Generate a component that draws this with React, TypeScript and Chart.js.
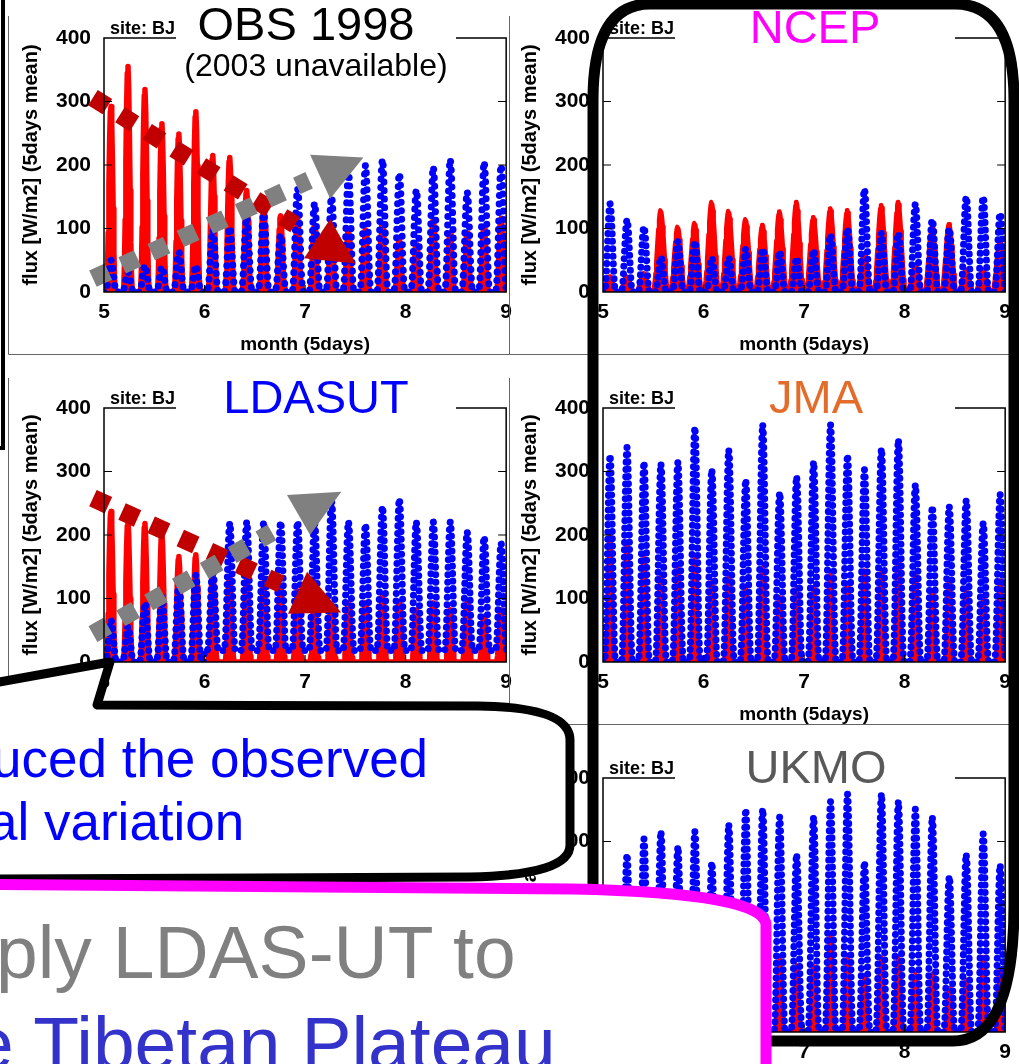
import React, { useEffect, useRef } from "react";
import { Chart, registerables } from "chart.js";

Chart.register(...registerables);

const FONT = "'Liberation Sans', Arial, Helvetica, sans-serif";

// ---------- axes ----------
const MONTH_TICKS = [5, 6, 7, 8, 9];
const FLUX_TICKS = [0, 100, 200, 300, 400];
const INNER_FLUX_TICKS = [100, 200, 300];
const INNER_MONTH_TICKS = [6, 7, 8];

// ---------- pentad timing (in months) ----------
const FIRST_PENTAD_NOON = 5.07;
const PENTAD_LENGTH = 0.1687;
const NOON_INDEX = 12;

// mean diurnal cycle shapes (fraction of the pentad's peak), hourly 00..23
const DIURNAL_SHARP = [0, 0, 0, 0, 0, 0, 0.02, 0.12, 0.32, 0.58, 0.82, 0.97, 1, 0.9, 0.7, 0.45, 0.22, 0.07, 0.01, 0, 0, 0, 0, 0];
const DIURNAL_MID = [0, 0, 0, 0, 0, 0.02, 0.1, 0.25, 0.45, 0.66, 0.84, 0.96, 1, 0.96, 0.84, 0.66, 0.45, 0.25, 0.1, 0.02, 0, 0, 0, 0];
const DIURNAL_BROAD = [0, 0.02, 0.06, 0.13, 0.23, 0.36, 0.5, 0.64, 0.77, 0.88, 0.96, 1, 1, 0.97, 0.9, 0.8, 0.68, 0.54, 0.4, 0.26, 0.14, 0.06, 0.02, 0];

// ---------- peak fluxes per pentad (W/m2), May..Aug ----------
const OBS_SENSIBLE = [292, 355, 319, 265, 249, 284, 215, 212, 160, 145, 120, 119, 105, 100, 98, 98, 108, 82, 76, 114, 93, 93, 103, 116];
const OBS_LATENT = [50, 31, 42, 40, 63, 42, 98, 102, 118, 124, 90, 163, 140, 150, 187, 200, 209, 187, 161, 197, 209, 158, 205, 200];

const NCEP_SENSIBLE = [25, 25, 30, 129, 103, 109, 142, 128, 115, 106, 127, 142, 118, 132, 129, 60, 137, 142, 40, 103, 107, 35, 35, 80];
const NCEP_LATENT = [139, 114, 103, 55, 80, 80, 54, 54, 68, 68, 64, 54, 66, 90, 100, 162, 93, 93, 139, 114, 100, 150, 150, 124];

const LDASUT_SENSIBLE = [237, 221, 218, 203, 166, 169, 145, 135, 130, 125, 120, 112, 95, 90, 93, 93, 103, 93, 82, 93, 82, 93, 72, 82];
const LDASUT_LATENT = [66, 56, 93, 103, 124, 137, 145, 219, 221, 221, 221, 221, 221, 255, 221, 217, 245, 257, 221, 221, 221, 205, 197, 187];
const LDASUT_LATENT_NIGHT = [0, 0, 0, 0, 0, 0, 18, 18, 18, 18, 18, 18, 18, 18, 18, 18, 18, 18, 18, 18, 18, 18, 18, 18];

const JMA_SENSIBLE = [200, 190, 166, 140, 150, 163, 129, 140, 119, 150, 103, 119, 119, 140, 124, 145, 145, 163, 140, 114, 127, 116, 103, 129];
const JMA_LATENT = [326, 338, 315, 312, 315, 370, 303, 334, 287, 374, 267, 292, 315, 374, 326, 303, 336, 350, 279, 245, 245, 255, 219, 264];

const UKMO_SENSIBLE = [150, 140, 135, 130, 125, 130, 120, 125, 120, 115, 117, 106, 105, 153, 117, 90, 119, 119, 93, 93, 70, 83, 119, 98];
const UKMO_LATENT = [225, 280, 304, 316, 292, 316, 267, 327, 351, 351, 339, 280, 339, 363, 375, 268, 375, 363, 351, 339, 245, 280, 312, 263];

// ---------- hand-drawn trend arrows (month, W/m2) ----------
const OBS_SH_TREND_LINE = [[4.89, 306], [6.9, 106]];
const OBS_SH_TREND_HEAD = [[7.25, 115], [6.99, 53], [7.5, 45]];
const OBS_LH_TREND_LINE = [[4.89, 21], [7.04, 176]];
const OBS_LH_TREND_HEAD = [[7.05, 216], [7.58, 212], [7.25, 147]];
const LDASUT_SH_TREND_LINE = [[4.89, 258], [6.76, 123]];
const LDASUT_SH_TREND_HEAD = [[7.02, 142], [6.83, 76], [7.36, 78]];
const LDASUT_LH_TREND_LINE = [[4.89, 44], [6.67, 204]];
const LDASUT_LH_TREND_HEAD = [[6.82, 263], [7.36, 268], [7.05, 200]];

type Arrow = { color: string; line: number[][]; head: number[][] };
type PanelDef = {
  id: string;
  row: number;
  col: number;
  title: string;
  titleColor: string;
  titleX: number;
  titleBaseline: number;
  sensible: number[];
  latent: number[];
  latentNight?: number[];
  sensibleShape: number[];
  sensibleWidth: number;
  dotGap: number;
  arrows: Arrow[];
};

const SH_ARROW = "#C00000";
const LH_ARROW = "#808080";

const PANELS: PanelDef[] = [
  {
    id: "obs", row: 0, col: 0, title: "OBS 1998", titleColor: "#000", titleX: 306, titleBaseline: 40,
    sensible: OBS_SENSIBLE, latent: OBS_LATENT, sensibleShape: DIURNAL_SHARP, sensibleWidth: 5.5, dotGap: 8.5,
    arrows: [
      { color: LH_ARROW, line: OBS_LH_TREND_LINE, head: OBS_LH_TREND_HEAD },
      { color: SH_ARROW, line: OBS_SH_TREND_LINE, head: OBS_SH_TREND_HEAD },
    ],
  },
  {
    id: "ncep", row: 0, col: 1, title: "NCEP", titleColor: "#FF00FF", titleX: 815, titleBaseline: 43,
    sensible: NCEP_SENSIBLE, latent: NCEP_LATENT, sensibleShape: DIURNAL_BROAD, sensibleWidth: 4, dotGap: 7.5,
    arrows: [],
  },
  {
    id: "ldasut", row: 1, col: 0, title: "LDASUT", titleColor: "#0000FF", titleX: 316, titleBaseline: 413,
    sensible: LDASUT_SENSIBLE, latent: LDASUT_LATENT, latentNight: LDASUT_LATENT_NIGHT, sensibleShape: DIURNAL_SHARP, sensibleWidth: 5.5, dotGap: 7.5,
    arrows: [
      { color: LH_ARROW, line: LDASUT_LH_TREND_LINE, head: LDASUT_LH_TREND_HEAD },
      { color: SH_ARROW, line: LDASUT_SH_TREND_LINE, head: LDASUT_SH_TREND_HEAD },
    ],
  },
  {
    id: "jma", row: 1, col: 1, title: "JMA", titleColor: "#E46C2A", titleX: 816, titleBaseline: 413,
    sensible: JMA_SENSIBLE, latent: JMA_LATENT, sensibleShape: DIURNAL_MID, sensibleWidth: 3.5, dotGap: 7.3,
    arrows: [],
  },
  {
    id: "ukmo", row: 2, col: 1, title: "UKMO", titleColor: "#595959", titleX: 816, titleBaseline: 783,
    sensible: UKMO_SENSIBLE, latent: UKMO_LATENT, sensibleShape: DIURNAL_MID, sensibleWidth: 3.5, dotGap: 7.3,
    arrows: [],
  },
];

const COLS = [
  { canvasLeft: 0, plotWidth: 406 },
  { canvasLeft: 499, plotWidth: 408 },
];
const CANVAS_W = 520;
const CANVAS_H = 360;
const ROW_STEP = 370;
const AXIS_W = 104;
const PLOT_TOP = 38;
const X_AXIS_H = 68;

function cyclePoints(peaks: number[], shape: number[], night?: number[]) {
  const pts: { x: number; y: number }[] = [];
  peaks.forEach((peak, i) => {
    const base = night ? night[i] : 0;
    shape.forEach((f, h) => {
      pts.push({
        x: FIRST_PENTAD_NOON + (i + (h - NOON_INDEX) / 24) * PENTAD_LENGTH,
        y: base + (peak - base) * f,
      });
    });
  });
  return pts;
}

function makeFramePlugin(panel: PanelDef) {
  return {
    id: "fluxFrame",
    afterDatasetsDraw(chart: any) {
      const { ctx, chartArea: a } = chart;
      const xs = chart.scales.x;
      const ys = chart.scales.y;
      ctx.save();
      ctx.strokeStyle = "#000";
      ctx.lineWidth = 1.5;
      ctx.strokeRect(a.left, a.top, a.right - a.left, a.bottom - a.top);
      ctx.lineWidth = 1.2;
      ctx.beginPath();
      INNER_FLUX_TICKS.forEach((v) => {
        const y = ys.getPixelForValue(v);
        ctx.moveTo(a.left, y);
        ctx.lineTo(a.left + 8, y);
        ctx.moveTo(a.right - 8, y);
        ctx.lineTo(a.right, y);
      });
      INNER_MONTH_TICKS.forEach((m) => {
        const x = xs.getPixelForValue(m);
        ctx.moveTo(x, a.bottom);
        ctx.lineTo(x, a.bottom - 7);
      });
      ctx.stroke();
      ctx.font = `bold 18px ${FONT}`;
      ctx.fillStyle = "#000";
      ctx.textAlign = "left";
      ctx.textBaseline = "alphabetic";
      ctx.fillText("site: BJ", a.left + 6, a.top - 4);
      panel.arrows.forEach((ar) => {
        ctx.fillStyle = ar.color;
        ctx.beginPath();
        ar.head.forEach(([x, y], k) => {
          const px = xs.getPixelForValue(x);
          const py = ys.getPixelForValue(y);
          if (k === 0) ctx.moveTo(px, py);
          else ctx.lineTo(px, py);
        });
        ctx.closePath();
        ctx.fill();
      });
      ctx.restore();
    },
  };
}

function FluxPanel({ panel }: { panel: PanelDef }) {
  const ref = useRef<HTMLCanvasElement>(null);
  const col = COLS[panel.col];
  useEffect(() => {
    const canvas = ref.current;
    if (!canvas) return;
    const arrowSets = panel.arrows.map((ar) => ({
      data: ar.line.map(([x, y]) => ({ x, y })),
      borderColor: ar.color,
      backgroundColor: ar.color,
      borderWidth: 18,
      borderDash: [17, 15],
      borderCapStyle: "butt",
      pointRadius: 0,
      fill: false,
      clip: false,
      order: 0,
    }));
    const chart = new Chart(canvas, {
      type: "line",
      data: {
        datasets: [
          {
            data: cyclePoints(panel.sensible, panel.sensibleShape),
            borderColor: "#FF0000",
            backgroundColor: "#FF0000",
            borderWidth: panel.sensibleWidth,
            borderJoinStyle: "round",
            pointRadius: 0,
            fill: "origin",
            tension: 0,
            order: 3,
          },
          {
            data: cyclePoints(panel.latent, DIURNAL_MID, panel.latentNight),
            borderColor: "#0000FF",
            borderWidth: 7,
            borderDash: [0.01, panel.dotGap],
            borderCapStyle: "round",
            borderJoinStyle: "round",
            pointRadius: 0,
            fill: false,
            tension: 0,
            order: 2,
          },
          ...arrowSets,
        ] as any,
      },
      options: {
        animation: false,
        responsive: false,
        maintainAspectRatio: false,
        devicePixelRatio: 1,
        events: [],
        layout: {
          padding: { top: PLOT_TOP, left: 0, bottom: 0, right: CANVAS_W - AXIS_W - col.plotWidth },
        },
        plugins: {
          legend: { display: false },
          tooltip: { enabled: false },
          title: { display: false },
        },
        scales: {
          x: {
            type: "linear",
            min: MONTH_TICKS[0],
            max: MONTH_TICKS[MONTH_TICKS.length - 1],
            afterBuildTicks: (s: any) => {
              s.ticks = MONTH_TICKS.map((v) => ({ value: v }));
            },
            afterFit: (s: any) => {
              s.height = X_AXIS_H;
            },
            grid: { display: false, drawTicks: false },
            border: { display: false },
            ticks: {
              color: "#000",
              padding: 8,
              maxRotation: 0,
              autoSkip: false,
              font: { family: FONT, size: 21, weight: "bold" },
            },
            title: {
              display: true,
              text: "month (5days)",
              color: "#000",
              padding: { top: 0, bottom: 4 },
              font: { family: FONT, size: 19, weight: "bold" },
            },
          },
          y: {
            type: "linear",
            min: FLUX_TICKS[0],
            max: FLUX_TICKS[FLUX_TICKS.length - 1],
            afterBuildTicks: (s: any) => {
              s.ticks = FLUX_TICKS.map((v) => ({ value: v }));
            },
            afterFit: (s: any) => {
              s.width = AXIS_W;
            },
            grid: { display: false, drawTicks: false },
            border: { display: false },
            ticks: {
              color: "#000",
              padding: 13,
              font: { family: FONT, size: 21, weight: "bold" },
            },
            title: {
              display: true,
              text: "flux [W/m2] (5days mean)",
              color: "#000",
              padding: { top: 19, bottom: 0 },
              font: { family: FONT, size: 20, weight: "bold" },
            },
          },
        },
      } as any,
      plugins: [makeFramePlugin(panel)],
    });
    return () => chart.destroy();
  }, [panel]);
  return (
    <canvas
      ref={ref}
      width={CANVAS_W}
      height={CANVAS_H}
      style={{
        position: "absolute",
        left: col.canvasLeft,
        top: panel.row * ROW_STEP,
        width: CANVAS_W,
        height: CANVAS_H,
      }}
    />
  );
}

export default function App() {
  const textStyle = { fontFamily: FONT };
  return (
    <div
      style={{
        position: "fixed",
        left: 0,
        top: 0,
        width: 1019,
        height: 1064,
        overflow: "hidden",
        background: "#fff",
      }}
    >
      {PANELS.map((p) => (
        <FluxPanel key={p.id} panel={p} />
      ))}
      <svg
        width={1019}
        height={1064}
        style={{ position: "absolute", left: 0, top: 0, pointerEvents: "none" }}
      >
        {/* outer panel frames */}
        <g stroke="#666" strokeWidth={1} fill="none">
          <path d="M 8.5 16 V 354.5 H 509.5 V 16" />
          <path d="M 8.5 378 V 724.5 H 509.5 V 378" />
          <path d="M 509.5 354.5 H 1019" />
          <path d="M 509.5 724.5 H 1019" />
        </g>
        {/* frame of the neighbouring slide object on the left */}
        <path d="M 3 0 V 448 H -5" stroke="#000" strokeWidth={4} fill="none" />

        {/* title boxes */}
        {PANELS.map((p) => (
          <rect
            key={"box-" + p.id}
            x={COLS[p.col].canvasLeft + 176}
            y={p.row * ROW_STEP}
            width={280}
            height={41}
            fill="#fff"
          />
        ))}
        {PANELS.map((p) => (
          <text
            key={"t-" + p.id}
            x={p.titleX}
            y={p.titleBaseline}
            fill={p.titleColor}
            fontSize={47}
            textAnchor="middle"
            style={textStyle}
          >
            {p.title}
          </text>
        ))}
        <text x={316} y={76} fontSize={32} textAnchor="middle" fill="#000" style={textStyle}>
          (2003 unavailable)
        </text>

        {/* black speech bubble */}
        <path
          d="M -200 718 L 110 662 L 97 705 L 478 706 Q 570 707 570 740 L 570 845 Q 570 875 470 877 L -200 880 Z"
          fill="#fff"
          stroke="#000"
          strokeWidth={9}
          strokeLinejoin="round"
        />
        <text x={-8} y={777} fontSize={53} fill="#0000FF" style={textStyle}>
          uced the observed
        </text>
        <text x={-12} y={840} fontSize={53} fill="#0000FF" style={textStyle}>
          al variation
        </text>

        {/* big rounded frame around the GCM panels */}
        <path
          d="M 650 4 L 955 4 Q 1014 4 1014 100 L 1014 905 Q 1014 1041 953 1041 L 655 1041 Q 593 1041 593 980 L 593 100 Q 593 4 650 4 Z"
          fill="none"
          stroke="#000"
          strokeWidth={11}
        />

        {/* magenta box */}
        <path
          d="M -50 884 L 572 889 Q 766 893 766 925 L 766 1120 L -50 1120 Z"
          fill="#fff"
          stroke="#FF00FF"
          strokeWidth={11}
        />
        <text x={-4} y={978} fontSize={75} fill="#808080" style={textStyle}>
          ply LDAS-UT to
        </text>
        <text x={-28} y={1069} fontSize={75} fill="#3333CC" style={textStyle}>
          e Tibetan Plateau
        </text>
      </svg>
    </div>
  );
}
